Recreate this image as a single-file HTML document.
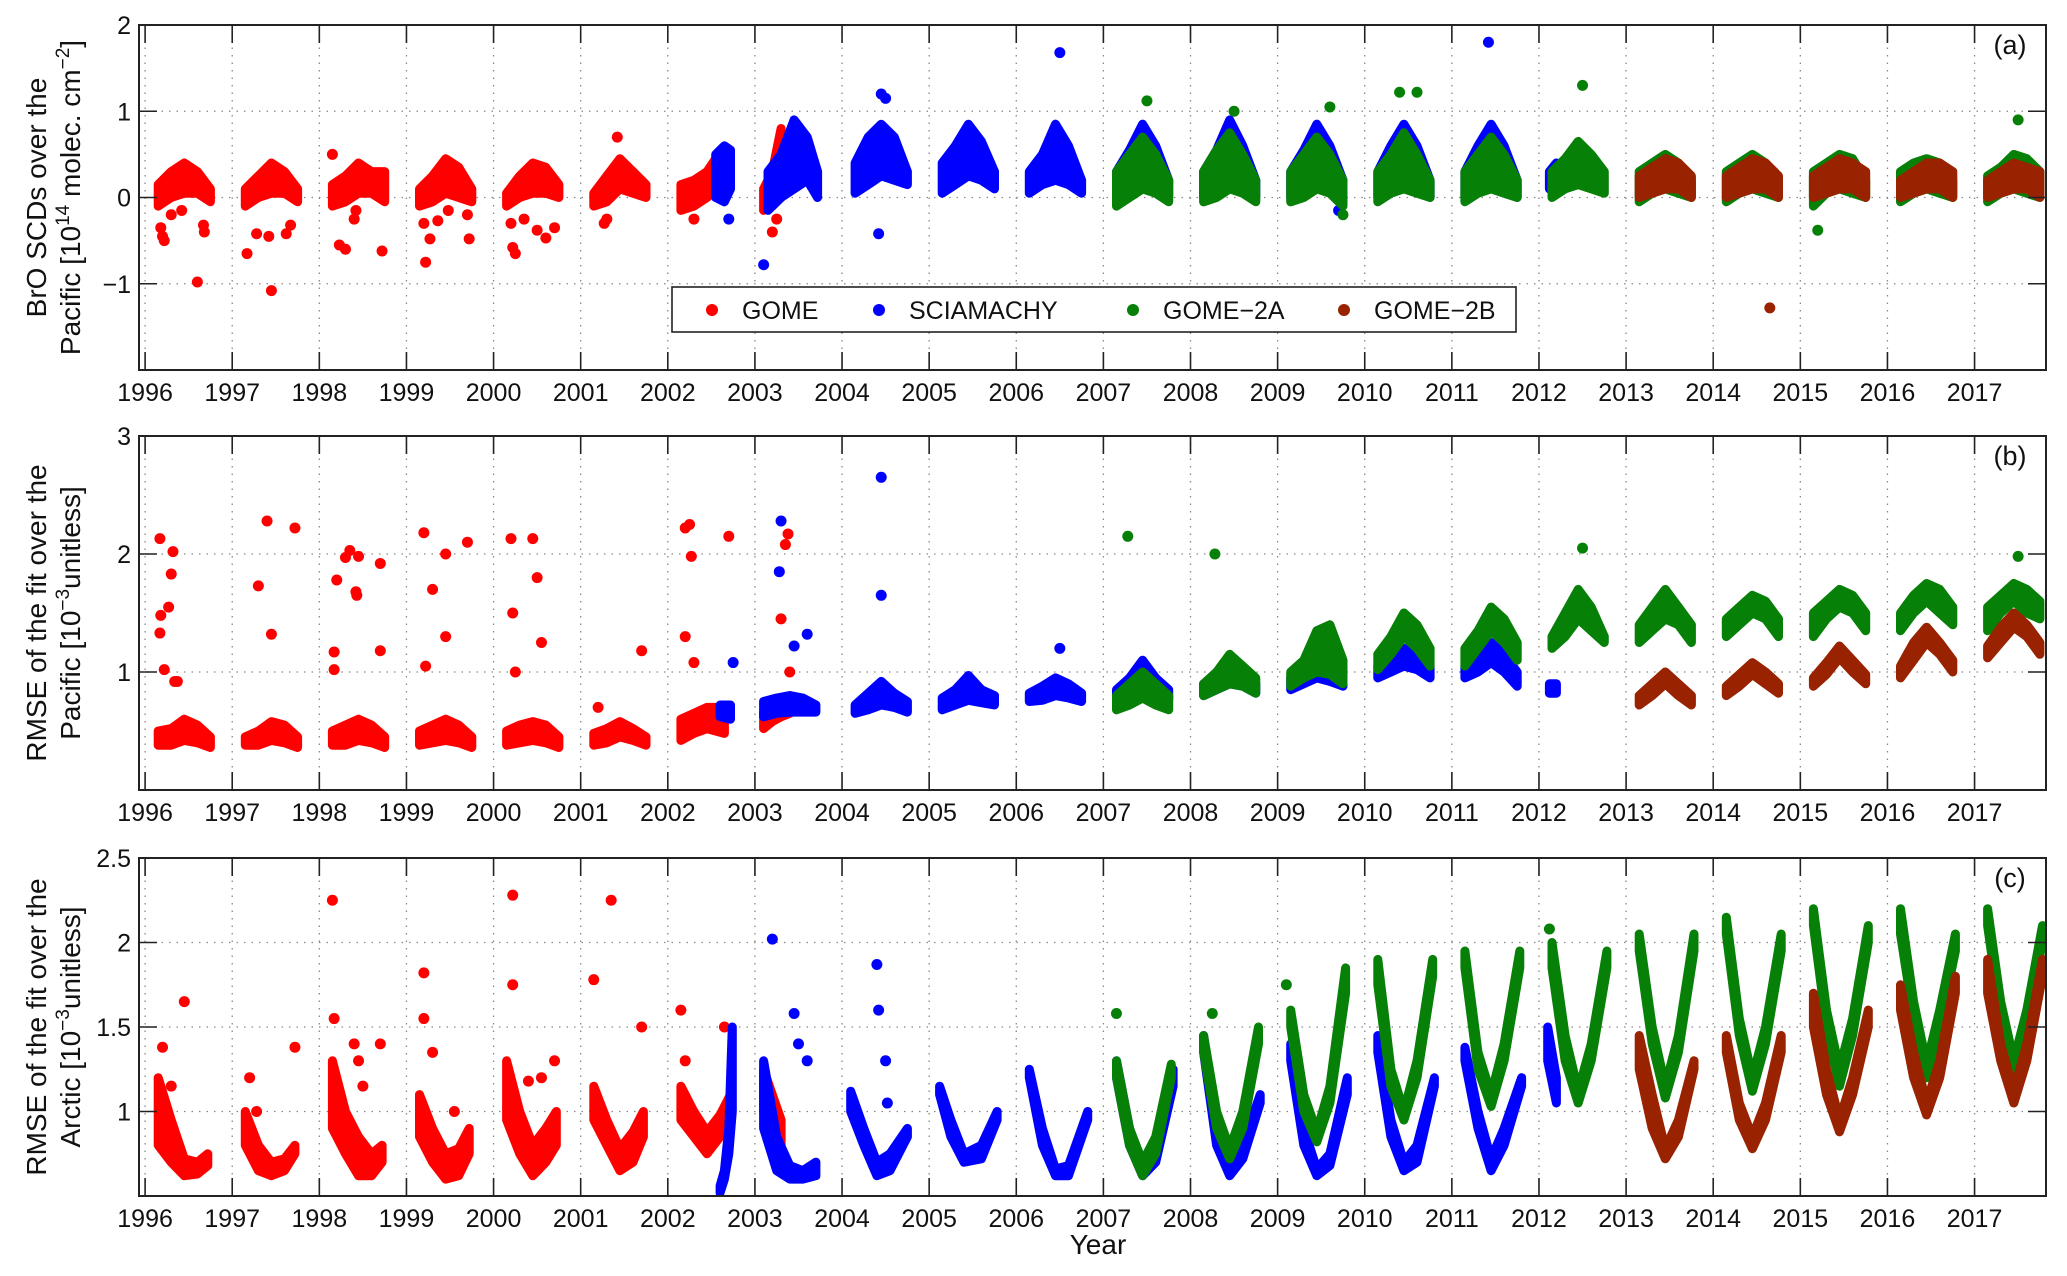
<!DOCTYPE html>
<html><head><meta charset="utf-8"><style>
html,body{margin:0;padding:0;background:#fff}
svg{display:block;font-family:"Liberation Sans",Arial,sans-serif}
</style></head><body>
<svg id="chart" width="2067" height="1276" viewBox="0 0 2067 1276" xmlns="http://www.w3.org/2000/svg"></svg>
<script>
// ---------- data ----------
const years = [1996,1997,1998,1999,2000,2001,2002,2003,2004,2005,2006,2007,2008,2009,2010,2011,2012,2013,2014,2015,2016,2017];
const T5 = [0.15,0.3,0.45,0.6,0.75];
const ticksA = [-1,0,1,2];
const ticksB = [1,2,3];
const ticksC = [1,1.5,2,2.5];

// Panel (a) BrO SCDs: seasons [year, t offsets, low envelope, high envelope]
const aGome = [
 [1996,T5,[-0.1,0,0.05,0.05,-0.05],[0.15,0.3,0.4,0.3,0.1]],
 [1997,T5,[-0.1,0,0.05,0.05,-0.05],[0.1,0.25,0.4,0.3,0.1]],
 [1998,T5,[-0.1,-0.05,0.05,0.05,-0.05],[0.15,0.25,0.4,0.3,0.3]],
 [1999,T5,[-0.1,-0.05,0.05,0,-0.05],[0.1,0.25,0.45,0.35,0.1]],
 [2000,T5,[-0.1,0,0.05,0.05,0],[0.05,0.25,0.4,0.35,0.15]],
 [2001,T5,[-0.1,-0.05,0.1,0.05,0],[0.05,0.25,0.45,0.3,0.15]],
 [2002,[0.15,0.3,0.45,0.55,0.62],[-0.15,-0.1,0,0.1,0.1],[0.15,0.2,0.3,0.45,0.5]],
 [2003,[0.1,0.2,0.3],[-0.15,-0.1,0],[0.1,0.3,0.8]]
];
const aGomeOut = [[1996.2,-0.45],[1996.22,-0.5],[1996.3,-0.2],[1996.18,-0.35],[1996.42,-0.15],[1996.6,-0.98],[1996.68,-0.4],[1996.67,-0.32],
 [1997.17,-0.65],[1997.28,-0.42],[1997.42,-0.45],[1997.45,-1.08],[1997.62,-0.42],[1997.67,-0.32],
 [1998.23,-0.55],[1998.3,-0.6],[1998.4,-0.25],[1998.42,-0.15],[1998.72,-0.62],[1998.15,0.5],
 [1999.2,-0.3],[1999.22,-0.75],[1999.27,-0.48],[1999.36,-0.27],[1999.48,-0.15],[1999.7,-0.2],[1999.72,-0.48],
 [2000.2,-0.3],[2000.22,-0.58],[2000.25,-0.65],[2000.35,-0.25],[2000.5,-0.38],[2000.6,-0.47],[2000.7,-0.35],
 [2001.27,-0.3],[2001.3,-0.25],[2001.42,0.7],[2002.3,-0.25],[2003.2,-0.4],[2003.25,-0.25]];
const aScia = [
 [2002,[0.55,0.65,0.72],[0,-0.05,0.1],[0.5,0.6,0.55]],
 [2003,[0.15,0.3,0.45,0.6,0.72],[-0.15,0,0.1,0.2,0],[0.3,0.5,0.9,0.7,0.3]],
 [2004,T5,[0.05,0.15,0.25,0.2,0.15],[0.4,0.7,0.85,0.7,0.3]],
 [2005,T5,[0.05,0.15,0.25,0.2,0.1],[0.4,0.6,0.85,0.65,0.3]],
 [2006,T5,[0.05,0.15,0.2,0.15,0.05],[0.3,0.5,0.85,0.6,0.2]],
 [2007,T5,[0,0.1,0.2,0.1,0],[0.3,0.55,0.85,0.6,0.2]],
 [2008,T5,[0,0.1,0.2,0.1,0],[0.3,0.55,0.9,0.6,0.2]],
 [2009,T5,[0,0.1,0.2,0.1,0],[0.3,0.55,0.85,0.6,0.2]],
 [2010,T5,[0,0.1,0.2,0.1,0],[0.3,0.6,0.85,0.6,0.2]],
 [2011,T5,[0,0.1,0.2,0.1,0],[0.3,0.6,0.85,0.6,0.2]],
 [2012,[0.12,0.2],[0.1,0.1],[0.3,0.4]]
];
const aSciaOut = [[2004.45,1.2],[2004.5,1.15],[2004.42,-0.42],[2006.5,1.68],[2011.42,1.8],[2003.1,-0.78],[2002.7,-0.25],[2009.7,-0.15]];
const aG2a = [
 [2007,T5,[-0.1,0,0.1,0.05,-0.05],[0.3,0.5,0.7,0.5,0.2]],
 [2008,T5,[-0.05,0,0.1,0.05,-0.05],[0.3,0.55,0.75,0.5,0.2]],
 [2009,T5,[-0.05,0,0.1,0.05,-0.1],[0.3,0.5,0.7,0.5,0.2]],
 [2010,T5,[-0.05,0.05,0.1,0.05,0],[0.3,0.5,0.75,0.5,0.2]],
 [2011,T5,[-0.05,0.05,0.1,0.05,0],[0.3,0.5,0.7,0.5,0.2]],
 [2012,T5,[0,0.1,0.15,0.1,0.05],[0.3,0.45,0.65,0.5,0.3]],
 [2013,T5,[-0.05,0.05,0.1,0.05,0],[0.3,0.4,0.5,0.4,0.2]],
 [2014,T5,[-0.05,0.05,0.1,0.05,0],[0.3,0.4,0.5,0.4,0.2]],
 [2015,T5,[-0.1,0.05,0.1,0.05,0],[0.3,0.4,0.5,0.45,0.2]],
 [2016,T5,[-0.05,0.05,0.1,0.05,0],[0.3,0.4,0.45,0.4,0.2]],
 [2017,T5,[-0.05,0.05,0.1,0.05,0],[0.25,0.35,0.5,0.45,0.3]]
];
const aG2aOut = [[2007.5,1.12],[2008.5,1.0],[2009.6,1.05],[2010.4,1.22],[2010.6,1.22],[2012.5,1.3],[2015.2,-0.38],[2017.5,0.9],[2009.75,-0.2]];
const aG2b = [
 [2013,T5,[0,0.05,0.1,0.1,0],[0.25,0.35,0.45,0.4,0.25]],
 [2014,T5,[0,0.05,0.1,0.1,0],[0.25,0.35,0.45,0.4,0.25]],
 [2015,T5,[0,0.05,0.1,0.1,0],[0.25,0.35,0.45,0.4,0.3]],
 [2016,T5,[0,0.05,0.1,0.1,0],[0.2,0.3,0.4,0.4,0.3]],
 [2017,T5,[0,0.05,0.1,0.1,0],[0.2,0.3,0.4,0.35,0.3]]
];
const aG2bOut = [[2014.65,-1.28]];

// Panel (b) RMSE Pacific
const bGome = [
 [1996,T5,[0.38,0.38,0.42,0.4,0.36],[0.5,0.52,0.6,0.55,0.45]],
 [1997,T5,[0.38,0.38,0.42,0.4,0.36],[0.45,0.5,0.58,0.55,0.45]],
 [1998,T5,[0.38,0.38,0.42,0.4,0.36],[0.5,0.55,0.6,0.55,0.45]],
 [1999,T5,[0.38,0.4,0.42,0.4,0.36],[0.5,0.55,0.6,0.55,0.45]],
 [2000,T5,[0.38,0.4,0.42,0.4,0.36],[0.5,0.55,0.58,0.55,0.45]],
 [2001,T5,[0.38,0.4,0.45,0.42,0.38],[0.48,0.52,0.58,0.52,0.45]],
 [2002,[0.15,0.3,0.45,0.55,0.65],[0.42,0.48,0.52,0.5,0.48],[0.6,0.65,0.7,0.7,0.65]],
 [2003,[0.1,0.2,0.3,0.4],[0.52,0.58,0.62,0.65],[0.65,0.7,0.75,0.8]]
];
const bGomeOut = [[1996.17,2.13],[1996.18,1.48],[1996.17,1.33],[1996.27,1.55],[1996.3,1.83],[1996.32,2.02],[1996.22,1.02],[1996.34,0.92],[1996.37,0.92],
 [1997.3,1.73],[1997.4,2.28],[1997.45,1.32],[1997.72,2.22],
 [1998.17,1.17],[1998.17,1.02],[1998.2,1.78],[1998.3,1.97],[1998.35,2.03],[1998.42,1.68],[1998.43,1.65],[1998.45,1.98],[1998.7,1.92],[1998.7,1.18],
 [1999.2,2.18],[1999.22,1.05],[1999.3,1.7],[1999.45,1.3],[1999.45,2.0],[1999.7,2.1],
 [2000.2,2.13],[2000.22,1.5],[2000.25,1.0],[2000.45,2.13],[2000.5,1.8],[2000.55,1.25],
 [2001.2,0.7],[2001.7,1.18],
 [2002.2,1.3],[2002.2,2.22],[2002.25,2.25],[2002.27,1.98],[2002.3,1.08],[2002.7,2.15],
 [2003.3,1.45],[2003.35,2.08],[2003.38,2.17],[2003.4,1.0]];
const bScia = [
 [2002,[0.6,0.72],[0.62,0.6],[0.72,0.72]],
 [2003,[0.1,0.25,0.4,0.55,0.7],[0.62,0.65,0.66,0.66,0.66],[0.75,0.78,0.8,0.78,0.72]],
 [2004,T5,[0.65,0.68,0.72,0.7,0.66],[0.72,0.82,0.92,0.82,0.75]],
 [2005,T5,[0.68,0.72,0.76,0.74,0.72],[0.78,0.85,0.97,0.85,0.8]],
 [2006,T5,[0.75,0.76,0.8,0.78,0.75],[0.82,0.88,0.95,0.9,0.82]],
 [2007,T5,[0.75,0.78,0.82,0.8,0.76],[0.85,0.95,1.1,0.95,0.85]],
 [2008,T5,[0.8,0.85,0.9,0.88,0.82],[0.9,0.95,1.05,0.95,0.9]],
 [2009,T5,[0.85,0.9,0.95,0.92,0.88],[0.95,1.05,1.25,1.1,1.0]],
 [2010,T5,[0.95,1.0,1.05,1.02,0.95],[1.05,1.12,1.2,1.15,1.05]],
 [2011,T5,[0.95,1.0,1.08,1.0,0.88],[1.05,1.15,1.25,1.15,1.0]],
 [2012,[0.12,0.2],[0.82,0.82],[0.9,0.9]]
];
const bSciaOut = [[2002.75,1.08],[2003.3,2.28],[2003.28,1.85],[2003.6,1.32],[2004.45,2.65],[2004.45,1.65],[2006.5,1.2],[2003.45,1.22]];
const bG2a = [
 [2007,T5,[0.68,0.72,0.78,0.72,0.68],[0.8,0.9,1.0,0.9,0.8]],
 [2008,T5,[0.8,0.85,0.9,0.88,0.82],[0.9,1.0,1.15,1.05,0.95]],
 [2009,T5,[0.88,0.95,1.0,0.98,0.9],[1.0,1.1,1.35,1.4,1.1]],
 [2010,T5,[1.02,1.15,1.3,1.2,1.05],[1.15,1.3,1.5,1.4,1.2]],
 [2011,T5,[1.05,1.2,1.35,1.25,1.1],[1.2,1.35,1.55,1.45,1.25]],
 [2012,T5,[1.2,1.3,1.45,1.35,1.25],[1.3,1.5,1.7,1.55,1.3]],
 [2013,T5,[1.25,1.35,1.45,1.4,1.25],[1.4,1.55,1.7,1.55,1.4]],
 [2014,T5,[1.3,1.4,1.5,1.45,1.3],[1.45,1.55,1.65,1.6,1.45]],
 [2015,T5,[1.3,1.45,1.55,1.5,1.35],[1.5,1.6,1.7,1.65,1.5]],
 [2016,T5,[1.35,1.5,1.6,1.5,1.4],[1.5,1.65,1.75,1.7,1.55]],
 [2017,T5,[1.35,1.5,1.6,1.5,1.45],[1.55,1.65,1.75,1.7,1.6]]
];
const bG2aOut = [[2007.28,2.15],[2008.28,2.0],[2012.5,2.05],[2017.5,1.98]];
const bG2b = [
 [2013,T5,[0.72,0.8,0.9,0.8,0.72],[0.8,0.9,1.0,0.9,0.8]],
 [2014,T5,[0.8,0.88,0.98,0.9,0.82],[0.88,0.98,1.08,1.0,0.9]],
 [2015,T5,[0.88,0.98,1.12,1.0,0.9],[0.95,1.08,1.22,1.1,0.98]],
 [2016,T5,[0.95,1.1,1.25,1.15,1.0],[1.05,1.25,1.38,1.25,1.1]],
 [2017,T5,[1.12,1.25,1.38,1.3,1.15],[1.22,1.38,1.5,1.4,1.25]]
];
const bG2bOut = [];

// Panel (c) RMSE Arctic
const TC = [0.15,0.3,0.45,0.6,0.78];
const cGome = [
 [1996,[0.15,0.3,0.45,0.6,0.72],[0.8,0.7,0.62,0.63,0.68],[1.2,0.95,0.72,0.7,0.75]],
 [1997,[0.15,0.3,0.45,0.6,0.72],[0.8,0.65,0.62,0.65,0.75],[1.0,0.8,0.7,0.72,0.8]],
 [1998,[0.15,0.3,0.45,0.6,0.72],[0.9,0.75,0.62,0.62,0.7],[1.3,1.0,0.85,0.75,0.8]],
 [1999,[0.15,0.3,0.45,0.6,0.72],[0.85,0.7,0.6,0.62,0.75],[1.1,0.9,0.75,0.78,0.9]],
 [2000,[0.15,0.3,0.45,0.6,0.72],[0.95,0.75,0.62,0.7,0.8],[1.3,1.0,0.8,0.9,1.0]],
 [2001,[0.15,0.3,0.45,0.6,0.72],[0.95,0.8,0.65,0.7,0.85],[1.15,0.95,0.78,0.88,1.0]],
 [2002,[0.15,0.3,0.45,0.6,0.72],[0.95,0.85,0.75,0.85,0.9],[1.15,1.0,0.88,0.98,1.1]],
 [2003,[0.1,0.2,0.3],[1.0,0.9,0.8],[1.25,1.1,0.95]]
];
const cGomeOut = [[1996.2,1.38],[1996.3,1.15],[1996.45,1.65],[1997.2,1.2],[1997.28,1.0],[1997.72,1.38],
 [1998.15,2.25],[1998.17,1.55],[1998.4,1.4],[1998.45,1.3],[1998.7,1.4],[1998.5,1.15],
 [1999.2,1.82],[1999.2,1.55],[1999.3,1.35],[1999.55,1.0],
 [2000.22,2.28],[2000.22,1.75],[2000.4,1.18],[2000.55,1.2],[2000.7,1.3],
 [2001.15,1.78],[2001.35,2.25],[2001.7,1.5],[2002.15,1.6],[2002.2,1.3],[2002.65,1.5]];
const cScia = [
 [2002,[0.6,0.65,0.7,0.74],[0.52,0.6,0.75,1.0],[0.56,0.65,0.9,1.5]],
 [2003,[0.1,0.25,0.4,0.55,0.7],[0.9,0.65,0.6,0.6,0.62],[1.3,0.85,0.68,0.65,0.7]],
 [2004,[0.1,0.25,0.4,0.55,0.75],[1.0,0.8,0.62,0.65,0.85],[1.12,0.9,0.7,0.75,0.9]],
 [2005,[0.12,0.25,0.4,0.6,0.78],[1.1,0.85,0.7,0.72,0.95],[1.15,0.95,0.75,0.8,1.0]],
 [2006,[0.15,0.3,0.45,0.6,0.82],[1.2,0.8,0.62,0.62,0.95],[1.25,0.9,0.66,0.68,1.0]],
 [2007,[0.15,0.3,0.45,0.6,0.8],[1.2,0.8,0.62,0.7,1.15],[1.3,0.9,0.68,0.8,1.25]],
 [2008,[0.15,0.3,0.45,0.6,0.8],[1.35,0.8,0.62,0.72,1.05],[1.45,0.9,0.68,0.8,1.1]],
 [2009,[0.15,0.3,0.45,0.6,0.8],[1.3,0.8,0.62,0.68,1.1],[1.4,0.9,0.66,0.75,1.2]],
 [2010,[0.15,0.3,0.45,0.6,0.8],[1.35,0.85,0.65,0.7,1.15],[1.45,0.95,0.7,0.8,1.2]],
 [2011,[0.15,0.3,0.45,0.6,0.8],[1.3,0.9,0.65,0.8,1.15],[1.38,1.0,0.72,0.9,1.2]],
 [2012,[0.1,0.2],[1.3,1.05],[1.5,1.2]]
];
const cSciaOut = [[2003.2,2.02],[2003.45,1.58],[2003.5,1.4],[2003.6,1.3],[2004.4,1.87],[2004.42,1.6],[2004.5,1.3],[2004.52,1.05]];
const cG2a = [
 [2007,TC,[1.2,0.8,0.62,0.75,1.2],[1.3,0.9,0.7,0.85,1.28]],
 [2008,TC,[1.35,0.9,0.72,0.9,1.4],[1.45,1.0,0.78,1.0,1.5]],
 [2009,TC,[1.5,1.0,0.82,1.05,1.7],[1.6,1.1,0.88,1.15,1.85]],
 [2010,TC,[1.75,1.15,0.95,1.2,1.8],[1.9,1.25,1.0,1.3,1.9]],
 [2011,TC,[1.85,1.25,1.03,1.3,1.85],[1.95,1.35,1.1,1.4,1.95]],
 [2012,TC,[1.85,1.3,1.05,1.3,1.85],[2.0,1.45,1.12,1.4,1.95]],
 [2013,TC,[1.95,1.4,1.08,1.35,1.95],[2.05,1.5,1.15,1.45,2.05]],
 [2014,TC,[2.05,1.45,1.12,1.4,1.95],[2.15,1.55,1.2,1.5,2.05]],
 [2015,TC,[2.1,1.5,1.15,1.45,2.0],[2.2,1.6,1.25,1.55,2.1]],
 [2016,TC,[2.05,1.55,1.2,1.5,1.95],[2.2,1.65,1.28,1.6,2.05]],
 [2017,TC,[2.1,1.55,1.2,1.55,2.0],[2.2,1.65,1.3,1.6,2.1]]
];
const cG2aOut = [[2007.15,1.58],[2008.25,1.58],[2009.1,1.75],[2012.12,2.08]];
const cG2b = [
 [2013,TC,[1.25,0.9,0.72,0.85,1.25],[1.45,1.1,0.78,0.95,1.3]],
 [2014,TC,[1.35,0.95,0.78,0.95,1.35],[1.45,1.05,0.85,1.05,1.45]],
 [2015,TC,[1.5,1.1,0.88,1.1,1.5],[1.7,1.25,0.95,1.2,1.6]],
 [2016,TC,[1.6,1.2,0.98,1.2,1.7],[1.75,1.35,1.05,1.3,1.8]],
 [2017,TC,[1.7,1.3,1.05,1.3,1.8],[1.9,1.4,1.12,1.4,1.9]]
];
const cG2bOut = [];

// ---------- drawing ----------
const NS = 'http://www.w3.org/2000/svg';
const svg = document.getElementById('chart');
const COL = {gome:'#ff0000', scia:'#0000ff', g2a:'#078007', g2b:'#992200'};
const L = 139, R = 2046;
const X0 = 1995.93, X1 = 2017.82;
function xs(t){ return L + (t - X0) / (X1 - X0) * (R - L); }

function mk(tag, attrs, parent){
  const e = document.createElementNS(NS, tag);
  for (const k in attrs) e.setAttribute(k, attrs[k]);
  (parent || svg).appendChild(e);
  return e;
}

const panels = [
 {id:'a', top:25, bot:370, y0:-2, y1:2, ticks:ticksA, label:'(a)',
  title1:'BrO SCDs over the', title2:['Pacific [10','14',' molec. cm','−2',']'],
  series:[['gome',aGome,aGomeOut],['scia',aScia,aSciaOut],['g2a',aG2a,aG2aOut],['g2b',aG2b,aG2bOut]]},
 {id:'b', top:436, bot:790, y0:0, y1:3, ticks:ticksB, label:'(b)',
  title1:'RMSE of the fit over the', title2:['Pacific [10','−3','unitless]'],
  series:[['gome',bGome,bGomeOut],['scia',bScia,bSciaOut],['g2a',bG2a,bG2aOut],['g2b',bG2b,bG2bOut]]},
 {id:'c', top:858, bot:1196, y0:0.5, y1:2.5, ticks:ticksC, label:'(c)',
  title1:'RMSE of the fit over the', title2:['Arctic [10','−3','unitless]'],
  series:[['gome',cGome,cGomeOut],['scia',cScia,cSciaOut],['g2a',cG2a,cG2aOut],['g2b',cG2b,cG2bOut]]}
];

panels.forEach(p => {
  const g = mk('g', {});
  
  
  const ys = v => p.bot - (v - p.y0) / (p.y1 - p.y0) * (p.bot - p.top);
  const grid = mk('g', {stroke:'#888', 'stroke-width':1.3, 'stroke-dasharray':'1.5 6'}, g);
  
  
  years.forEach(y => mk('line', {x1:xs(y), x2:xs(y), y1:p.top, y2:p.bot}, grid));
  p.ticks.forEach(v => mk('line', {x1:L, x2:R, y1:ys(v), y2:ys(v)}, grid));
  const cp = mk('clipPath', {id:'clip-' + p.id}, g);
  mk('rect', {x:L, y:p.top, width:R-L, height:p.bot-p.top}, cp);
  const data = mk('g', {'clip-path':'url(#clip-' + p.id + ')'}, g);
  p.series.forEach(([key, seasons, outs]) => {
    const sg = mk('g', {fill:COL[key], stroke:COL[key]}, data);
    
    
    seasons.forEach(([yr, t, lo, hi]) => {
      const pts = [];
      t.forEach((o,i) => pts.push(xs(yr+o).toFixed(1) + ',' + ys(hi[i]).toFixed(1)));
      for (let i = t.length-1; i >= 0; i--) pts.push(xs(yr+t[i]).toFixed(1) + ',' + ys(lo[i]).toFixed(1));
      const poly = mk('polygon', {points:pts.join(' '), 'stroke-width':9, 'stroke-linejoin':'round'}, sg);
      
      
    });
    outs.forEach(([t, v]) => {
      const c = mk('circle', {cx:xs(t), cy:ys(v), r:5.5, stroke:'none'}, sg);
      
      
    });
  });
  const tk = mk('g', {stroke:'#222', 'stroke-width':1.6}, g);
  years.forEach(y => {
    mk('line', {x1:xs(y), x2:xs(y), y1:p.bot, y2:p.bot-18}, tk);
    mk('line', {x1:xs(y), x2:xs(y), y1:p.top, y2:p.top+18}, tk);
  });
  p.ticks.forEach(v => {
    mk('line', {x1:L, x2:L+18, y1:ys(v), y2:ys(v)}, tk);
    mk('line', {x1:R, x2:R-18, y1:ys(v), y2:ys(v)}, tk);
  });
  const frame = mk('rect', {x:L, y:p.top, width:R-L, height:p.bot-p.top, fill:'none', stroke:'#222', 'stroke-width':2}, g);
  
  
  const xl = mk('g', {'font-size':25, 'text-anchor':'middle', fill:'#111'}, g);
  
  
  years.forEach(y => { const t = mk('text', {x:xs(y), y:p.bot+31}, xl); t.textContent = y; });
  const yl = mk('g', {'font-size':25, 'text-anchor':'end', fill:'#111'}, g);
  
  
  p.ticks.forEach(v => { const t = mk('text', {x:L-8, y:ys(v)+9}, yl); t.textContent = (v < 0 ? '−' + Math.abs(v) : v); });
  const pl = mk('text', {x:2010, y:p.top+29, 'font-size':27, 'text-anchor':'middle', fill:'#111'}, g);
  
  
  pl.textContent = p.label;
  const cy = (p.top + p.bot) / 2;
  const yt = mk('text', {transform:'translate(46,' + cy + ') rotate(-90)', 'font-size':28, 'text-anchor':'middle', fill:'#111'}, g);
  
  
  const l1 = mk('tspan', {x:0, y:0}, yt); l1.textContent = p.title1;
  const l2 = mk('tspan', {x:0, y:34}, yt);
  p.title2.forEach((s,i) => {
    const ts = mk('tspan', i % 2 ? {'font-size':19, dy:-11} : (i > 0 ? {dy:11} : {}), l2);
    ts.textContent = s;
  });
});

const xt = mk('text', {x:1098, y:1254, 'font-size':28, 'text-anchor':'middle', fill:'#111'});


xt.textContent = 'Year';

const legendNames = ['GOME','SCIAMACHY','GOME−2A','GOME−2B'];
const legendKeys = ['gome','scia','g2a','g2b'];
const lg = mk('g', {});


mk('rect', {x:672, y:287, width:844, height:45, fill:'#fff', stroke:'#222', 'stroke-width':1.6}, lg);
const legX = [712, 879, 1133, 1344];
legendNames.forEach((n,i) => {
  const e = mk('g', {}, lg);
  
  
  mk('circle', {cx:legX[i], cy:310, r:6, fill:COL[legendKeys[i]]}, e);
  const t = mk('text', {x:legX[i]+30, y:319, 'font-size':25, fill:'#111'}, e);
  t.textContent = n;
});
</script>
</body></html>
